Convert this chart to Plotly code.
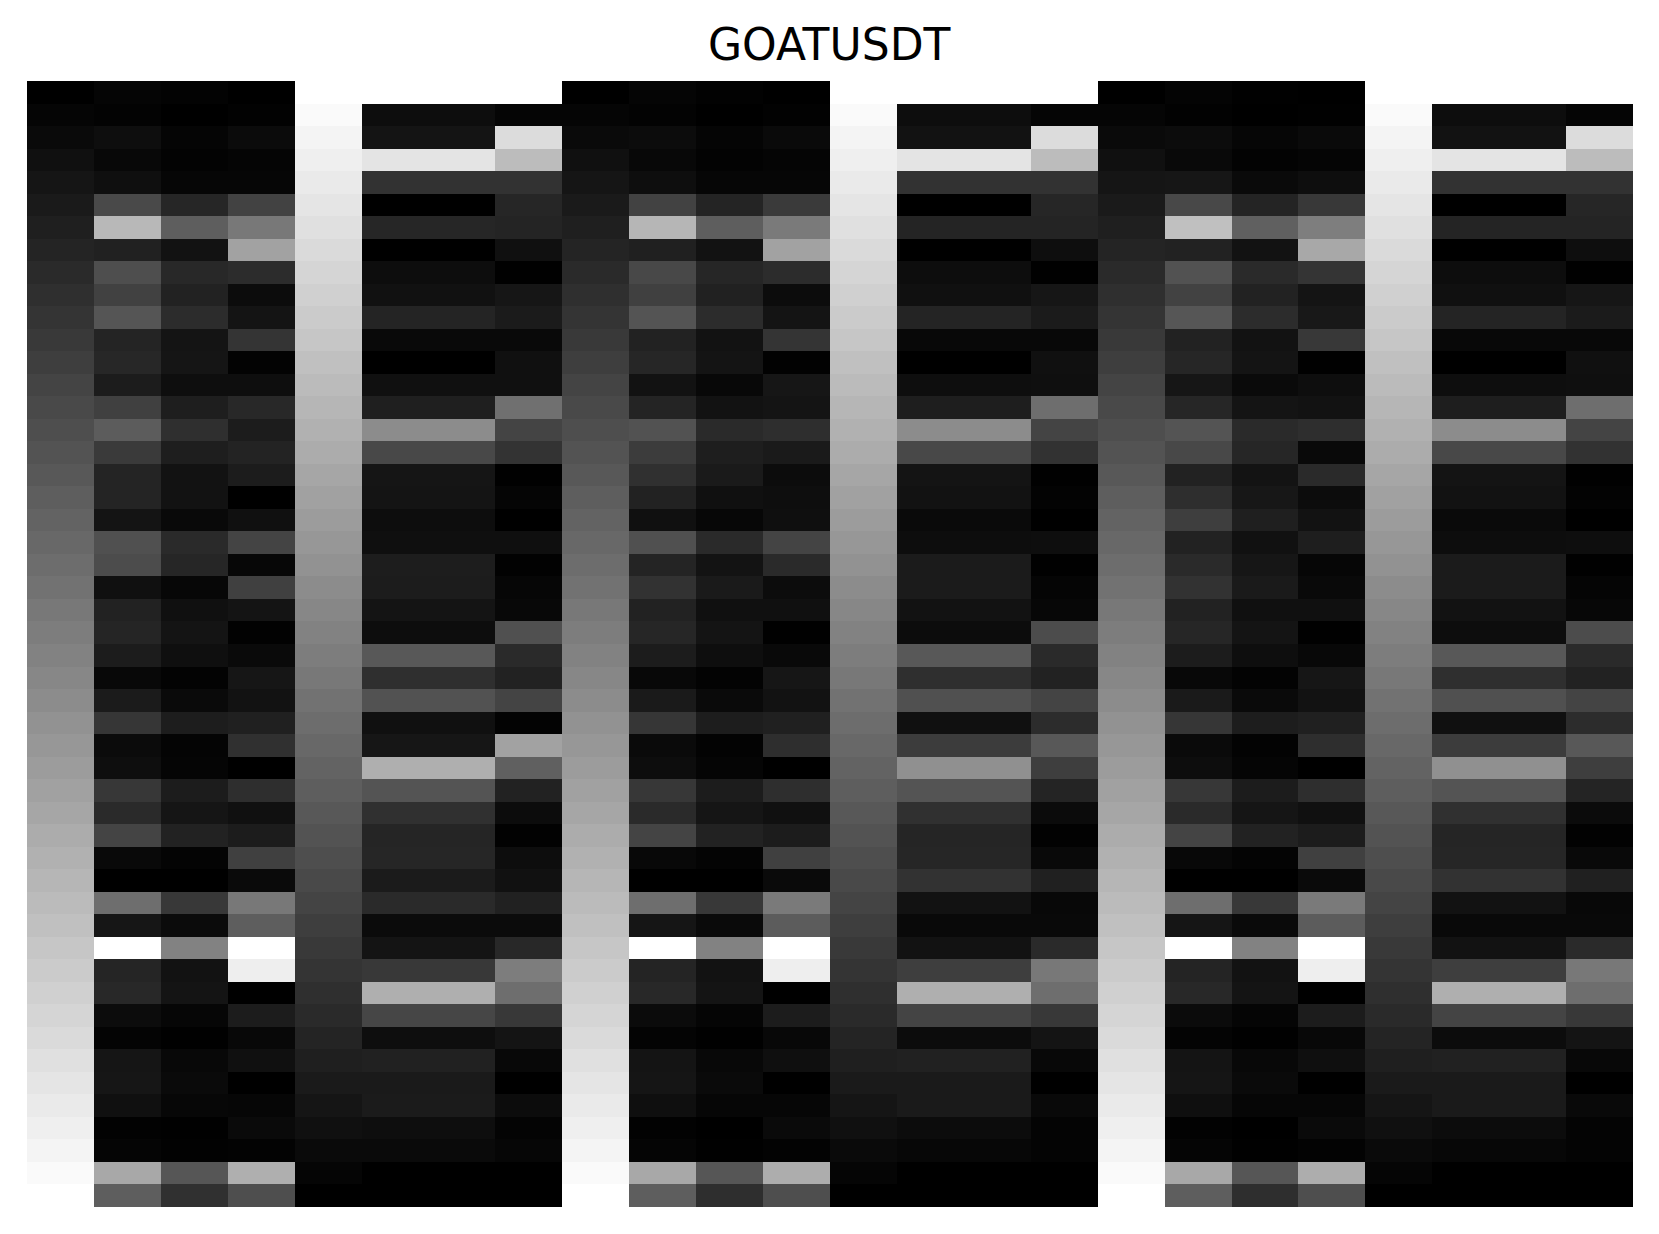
import plotly.graph_objects as go

title = "GOATUSDT"

# gray levels, one list per column, top row first
ramp_up = [0,5,10,16,21,26,31,36,42,47,52,57,62,68,73,78,83,88,94,99,104,109,114,120,125,130,135,140,146,151,156,161,166,172,177,182,187,192,198,203,208,213,218,224,229,234,239,244,250,255]
ramp_down = ramp_up[::-1]

a1 = [5,3,14,8,15,73,184,33,78,65,85,36,39,28,64,92,58,36,36,20,80,76,16,34,37,28,8,27,54,11,14,55,42,68,9,0,110,22,255,37,40,12,4,21,22,16,2,5,168,94]
a2 = [3,0,5,3,6,38,94,18,40,34,44,20,21,14,30,47,30,18,18,9,42,38,7,16,20,15,3,10,29,4,5,28,21,34,4,0,56,11,130,18,20,6,1,8,10,7,1,2,86,48]
a3 = [0,2,11,5,6,66,120,162,44,12,20,52,3,14,40,28,35,28,0,16,68,7,64,20,2,10,22,18,32,48,0,46,16,28,64,10,120,94,255,238,0,28,8,16,0,6,10,3,175,78]
a5 = [255,13,20,228,50,0,38,0,13,17,36,9,0,16,31,140,72,21,20,13,15,29,28,20,13,88,47,82,16,22,175,84,48,37,38,27,42,11,20,56,175,70,14,33,26,27,14,10,0,0]
a7 = [255,5,220,188,50,38,36,16,1,22,27,9,16,16,112,68,51,1,5,0,15,2,6,8,80,42,34,68,3,162,96,34,12,2,13,17,33,11,40,125,110,56,20,8,0,12,4,6,0,0]

b1 = [5,3,12,8,14,66,182,32,72,64,84,34,38,18,36,82,60,48,34,16,80,36,50,34,38,28,8,26,54,10,13,55,42,68,8,0,110,21,255,36,40,11,4,20,21,15,2,5,168,94]
b2 = [2,0,5,3,6,36,94,18,38,33,44,18,20,8,18,42,30,26,16,7,42,19,26,16,20,14,3,10,29,3,5,28,21,34,4,0,56,10,130,18,20,5,1,8,10,6,0,1,86,46]
b3 = [0,2,10,5,6,58,122,162,44,12,20,52,2,22,20,46,26,12,14,15,68,42,12,16,1,9,22,18,32,46,0,46,16,28,64,10,122,92,255,238,0,28,8,15,0,6,10,3,173,78]
b5 = [255,13,18,228,50,0,36,0,13,16,36,8,0,14,30,140,72,20,18,10,13,27,27,18,12,88,47,80,16,60,144,84,48,37,38,50,18,9,18,62,175,68,12,33,26,26,12,7,0,0]
b7 = [255,5,220,188,50,38,36,14,1,22,27,8,16,15,110,68,50,1,3,0,14,1,5,7,76,42,34,68,44,88,62,36,11,2,9,32,8,9,42,120,110,56,20,8,0,9,4,4,0,0]

c1 = [4,2,12,9,22,72,192,34,82,66,86,34,38,22,38,84,72,34,46,62,34,42,50,34,38,28,8,26,54,10,13,55,42,68,8,0,110,21,255,36,40,11,4,20,21,15,2,5,168,94]
c2 = [1,0,6,3,10,36,96,18,42,34,44,18,20,10,20,42,38,19,23,31,17,22,26,16,20,14,3,10,29,3,5,28,21,34,4,0,56,10,130,18,20,5,1,8,10,6,0,1,86,46]
c3 = [0,1,10,5,14,56,126,168,52,20,24,56,1,14,18,46,9,42,12,18,30,6,9,16,1,8,22,18,32,46,0,46,16,28,64,10,122,92,255,238,0,28,8,15,0,6,10,3,173,78]
c5 = [255,13,18,228,50,0,36,0,13,16,36,8,0,14,30,140,72,20,18,10,13,27,27,18,13,88,47,80,16,60,144,84,48,37,38,50,18,9,18,62,175,68,12,33,26,26,12,7,0,0]
c7 = [255,5,220,188,50,38,36,14,1,22,27,8,16,15,110,68,50,1,3,0,14,1,5,7,76,42,34,68,44,88,62,36,11,2,9,32,8,9,42,120,110,56,20,8,0,9,4,4,0,0]

columns = [
    ramp_up, a1, a2, a3, ramp_down, a5, a5, a7,
    ramp_up, b1, b2, b3, ramp_down, b5, b5, b7,
    ramp_up, c1, c2, c3, ramp_down, c5, c5, c7,
]
rows = [[col[r] for col in columns] for r in range(len(ramp_up))]

fig = go.Figure(go.Heatmap(
    z=rows,
    zmin=0, zmax=255,
    colorscale=[[0, "#000000"], [1, "#ffffff"]],
    showscale=False,
    hoverinfo="skip",
    xgap=0, ygap=0,
))
fig.update_layout(
    width=1659, height=1234,
    margin=dict(l=27, r=26, t=81, b=27, pad=0),
    paper_bgcolor="white", plot_bgcolor="white",
    title=dict(
        text=title,
        font=dict(family="DejaVu Sans", size=44, color="black"),
        x=0.4995, xref="paper", xanchor="center",
        y=1 - 44.5 / 1234, yref="container", yanchor="middle",
    ),
    xaxis=dict(visible=False, range=[-0.5, 23.5]),
    yaxis=dict(visible=False, range=[49.5, -0.5]),
)
fig.write_html(
    "out.html",
    config={"displayModeBar": False},
    post_script="document.body.style.margin='0';document.body.style.overflow='hidden';",
)
